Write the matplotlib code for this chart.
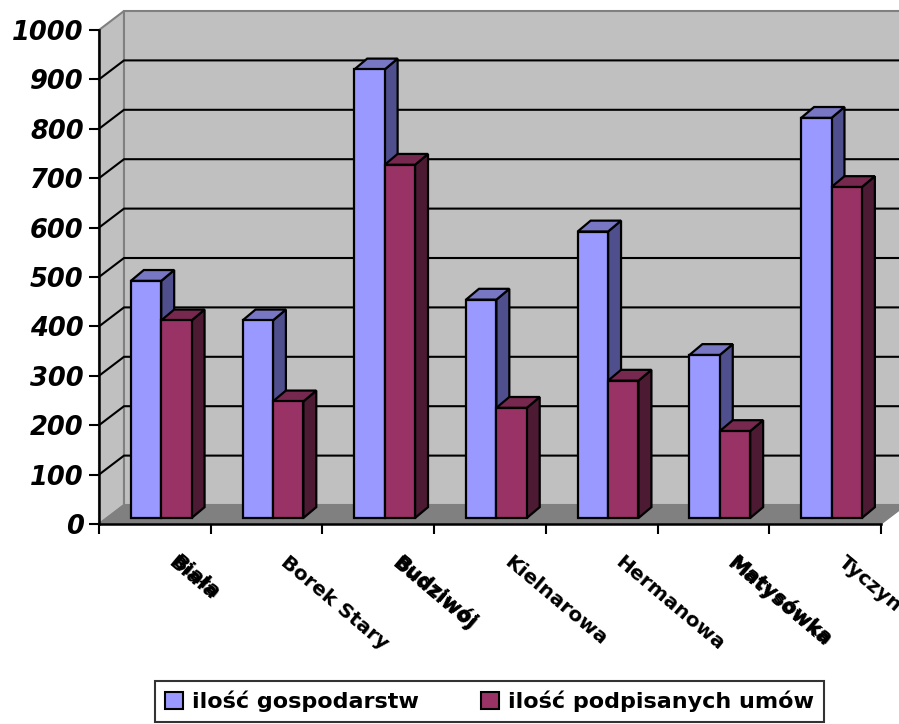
import numpy as np
import matplotlib
matplotlib.use('Agg')
import matplotlib.pyplot as plt
from matplotlib.patches import Patch, Polygon
from matplotlib.transforms import ScaledTranslation

plt.rcParams['font.family'] = ['DejaVu Sans']

villages = ['Biała', 'Borek Stary', 'Budziwój', 'Kielnarowa', 'Hermanowa', 'Matysówka', 'Tyczyn']
gospodarstw = [480, 400, 908, 442, 580, 330, 810]
umowy = [400, 236, 715, 223, 278, 176, 670]
yticks = np.arange(0, 1001, 100)
overprinted = [0, 2, 5]  # these labels are doubled up in the original

WALL = '#C0C0C0'
FLOOR = '#808080'
BLUE = ('#9999FF', '#7777C4', '#4F4F8E')
RED = ('#993366', '#77284F', '#4D1A33')

# depth of the fake 3d box, in data units
DX = 25 / 111.7
DY = 19 / 0.494

fig = plt.figure(figsize=(8.99, 7.24), dpi=100)
ax = fig.add_axes([99 / 899, 200 / 724, 782 / 899, 494 / 724])
ax.set_xlim(0, 7)
ax.set_ylim(0, 1000)


def poly(pts, fc, ec='black', lw=1.6, z=3):
    ax.add_patch(Polygon(pts, closed=True, fc=fc, ec=ec, lw=lw, zorder=z,
                         clip_on=False, joinstyle='miter'))


# walls and floor
poly([(0, 0), (DX, DY), (DX, 1000 + DY), (0, 1000)], WALL, FLOOR, 1.5, 1)
poly([(DX, DY), (7 + DX, DY), (7 + DX, 1000 + DY), (DX, 1000 + DY)], WALL, FLOOR, 1.5, 1)
poly([(0, 0), (DX, DY), (7 + DX, DY), (7, 0)], FLOOR, FLOOR, 1, 1)
for v in yticks[1:-1]:
    ax.plot([0, DX, 7 + DX], [v, v + DY, v + DY], color='black', lw=1.5, zorder=2,
            clip_on=False, solid_joinstyle='miter')


def bar(x, v, w, colors):
    base = 12.1  # bars stand a little behind the front edge
    bx, by = 0.116, 22
    poly([(x + w, base), (x + w + bx, base + by), (x + w + bx, base + v + by), (x + w, base + v)], colors[2])
    poly([(x, base + v), (x + bx, base + v + by), (x + w + bx, base + v + by), (x + w, base + v)], colors[1])
    poly([(x, base), (x + w, base), (x + w, base + v), (x, base + v)], colors[0])


w = 0.272
for i in range(len(villages)):
    bar(i + 0.285, gospodarstw[i], w, BLUE)
    bar(i + 0.285 + w, umowy[i], w, RED)

for s in ['top', 'right']:
    ax.spines[s].set_visible(False)
for s in ['left', 'bottom']:
    ax.spines[s].set_linewidth(1.8)
    ax.spines[s].set_zorder(5)
ax.set_xticks(np.arange(8))
ax.set_xticklabels([])
ax.set_yticks(yticks)
ax.set_yticklabels([str(v) for v in yticks], fontsize=18.5, fontweight='bold', fontstyle='oblique')
ax.tick_params(axis='both', length=7, width=1.5, color='black')
ax.tick_params(axis='y', pad=4)

label_kw = dict(rotation=-40, rotation_mode='anchor', ha='left', va='top',
                fontsize=14.5, fontweight='bold', color='black', clip_on=False)
for i, name in enumerate(villages):
    ax.text(i + 0.70, -58, name, **label_kw)
    if i in overprinted:
        shift = ScaledTranslation(1.5 / 72, 1.0 / 72, fig.dpi_scale_trans)
        ax.text(i + 0.70, -58, name, transform=ax.transData + shift, **label_kw)

handles = [Patch(fc=BLUE[0], ec='black', lw=1.5), Patch(fc=RED[0], ec='black', lw=1.5)]
leg = fig.legend(handles, ['ilość gospodarstw', 'ilość podpisanych umów'],
                 loc='lower left', bbox_to_anchor=(155 / 899, 2 / 724, 669 / 899, 41 / 724),
                 mode='expand', ncol=2,
                 prop={'size': 16, 'weight': 'bold'}, fancybox=False, framealpha=1,
                 edgecolor='#333333', borderaxespad=0, handlelength=0.8, handleheight=0.8,
                 handletextpad=0.4, columnspacing=1.75, borderpad=0.45)
leg.get_frame().set_linewidth(1.5)

fig.savefig('out.png', dpi=100)
